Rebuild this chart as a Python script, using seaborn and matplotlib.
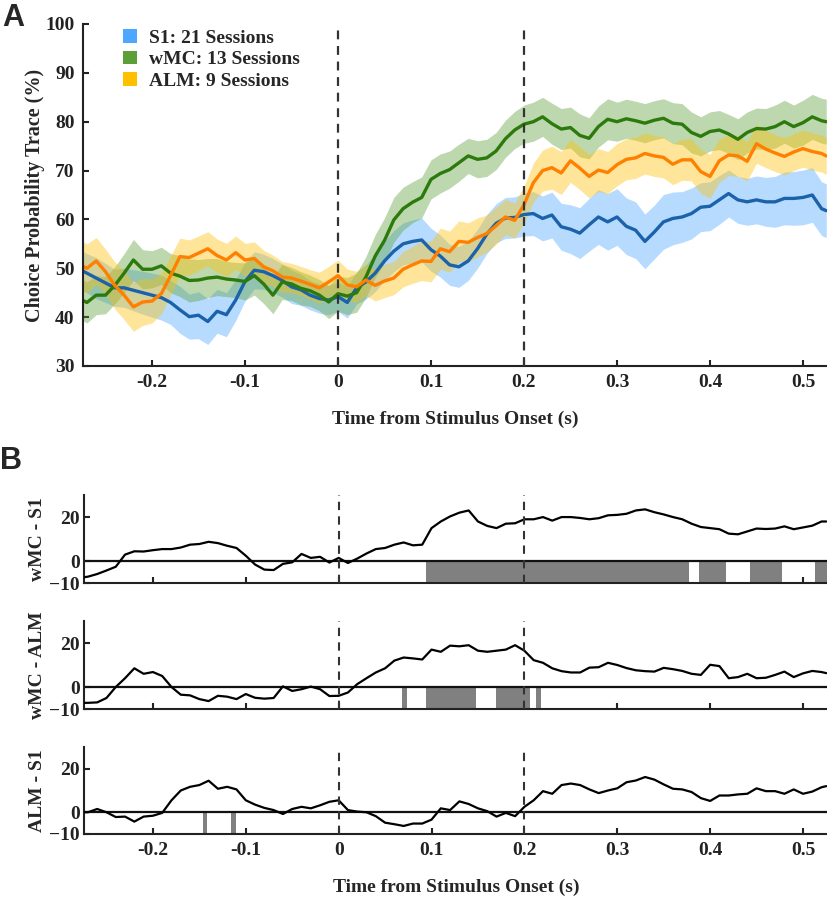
import numpy as np
import pandas as pd
import matplotlib
matplotlib.use("Agg")
import matplotlib.pyplot as plt
import seaborn as sns
from matplotlib.patches import Patch

# ---------------- data ----------------
# time axis (s): endpoints plus 10 ms grid
time_s = np.concatenate(([-0.275], np.arange(-27, 53) / 100, [0.525]))
x_ticks = [-0.2, -0.1, 0, 0.1, 0.2, 0.3, 0.4, 0.5]
x_tick_labels = ["-0.2", "-0.1", "0", "0.1", "0.2", "0.3", "0.4", "0.5"]

series_names = ["S1", "wMC", "ALM"]
legend_labels = ["S1: 21 Sessions", "wMC: 13 Sessions", "ALM: 9 Sessions"]

s1_mean = [49.5, 49, 48, 47, 46, 46, 45.5, 45, 44.5, 44,
           43, 41.5, 40.1, 40.4, 39.1, 41.2, 40.5, 43.5, 47.3, 49.6,
           49.3, 48.5, 47.5, 46.2, 45.6, 44.5, 43.8, 43.5, 44.2, 43,
           46, 47.2, 49, 51.5, 53.5, 55, 55.5, 55.8, 53.8, 52.5,
           50.7, 50.3, 51.5, 54, 57, 59.2, 60.3, 60.4, 61, 61.2,
           60.2, 60.9, 58.5, 58, 57.2, 58.9, 60.5, 59.5, 60.5, 58.6,
           57.8, 55.5, 57.4, 59.5, 60.2, 60.5, 61.2, 62.5, 62.7, 64,
           65.3, 64, 63.6, 64, 63.6, 63.6, 64.3, 64.3, 64.5, 65,
           62.2, 61.8]
s1_sem = [4.0, 4.0, 4.2, 4.0, 3.8, 4.0, 4.2, 4.4, 4.5, 4.6,
          4.5, 4.8, 4.6, 4.8, 4.7, 4.5, 4.5, 4.2, 4.0, 3.8,
          3.6, 3.5, 3.4, 3.4, 3.2, 3.0, 3.0, 3.0, 3.0, 3.2,
          3.3, 3.5, 3.8, 4.0, 4.2, 4.3, 4.4, 4.5, 4.4, 4.3,
          4.2, 4.2, 4.0, 4.0, 4.0, 4.0, 4.2, 4.2, 4.4, 4.5,
          4.6, 4.7, 4.8, 5.0, 5.2, 5.4, 5.6, 5.8, 5.8, 5.8,
          5.8, 5.6, 5.5, 5.6, 5.4, 5.2, 5.2, 5.0, 5.0, 5.0,
          4.8, 4.8, 4.8, 4.9, 5.0, 5.2, 5.4, 5.5, 5.6, 5.6,
          5.5, 5.5]

wmc_mean = [43.5, 43, 44.5, 44.5, 46.5, 49, 51.7, 49.8, 49.8, 50.5,
            49, 48.4, 47.5, 47.6, 48, 48.2, 47.8, 47.6, 47.3, 48.5,
            46.8, 44.5, 47.2, 46.8, 45.9, 45.4, 44.5, 43.1, 44.8, 44.3,
            45, 48.2, 52.5, 55.7, 59.9, 62.2, 63.5, 64.5, 68.2, 69.4,
            70.2, 71.6, 73, 72.3, 72.6, 74, 76.5, 78.3, 79.5, 80,
            81, 79.6, 78.5, 78.8, 77.2, 76.6, 79, 80.5, 80, 80.6,
            80.2, 79.7, 80.3, 80.7, 79.7, 79.5, 77.8, 77, 78, 78.3,
            77.5, 76.4, 77.8, 78.6, 78.5, 79, 80, 79, 79.8, 81,
            80.2, 80]
wmc_sem = [4.2, 4.2, 4.0, 3.8, 3.8, 4.0, 4.2, 4.0, 3.8, 3.8,
           4.0, 4.2, 4.4, 4.2, 4.0, 3.8, 3.6, 3.6, 3.8, 4.0,
           4.0, 3.8, 3.6, 3.4, 3.4, 3.2, 3.2, 3.4, 3.6, 3.8,
           4.0, 4.2, 4.4, 4.6, 4.6, 4.4, 4.2, 4.2, 4.0, 4.0,
           3.8, 3.8, 3.6, 3.8, 3.8, 3.8, 3.8, 3.8, 3.9, 4.0,
           4.0, 4.2, 4.2, 4.2, 4.4, 4.2, 4.2, 4.2, 4.0, 4.0,
           4.0, 4.0, 4.0, 4.0, 4.2, 4.2, 4.2, 4.0, 4.0, 4.0,
           4.0, 4.2, 4.2, 4.2, 4.2, 4.4, 4.4, 4.4, 4.6, 4.6,
           4.6, 4.6]

alm_mean = [50.5, 50, 51.5, 49.3, 46.5, 44.5, 42.1, 43.1, 43.3, 44.8,
            48.5, 52.4, 52.2, 53.1, 54, 52.6, 51.7, 53.2, 51.7, 52,
            50.3, 49.5, 48.2, 48, 47.4, 46.7, 46, 47.2, 48.5, 46.6,
            46.2, 47.6, 46.5, 47.4, 48, 49.8, 50.7, 51.5, 51.4, 54,
            53.4, 55.5, 55.3, 56.3, 57.1, 58.7, 60.5, 59.8, 63, 67.5,
            70, 70.6, 69.5, 72, 70.5, 68.8, 70.1, 69.6, 71.2, 72.3,
            72.6, 73.5, 73, 72.7, 71.3, 72.2, 72.2, 69.8, 68.8, 72,
            73.2, 73, 71.9, 75.5, 74.4, 73.6, 72.9, 73.8, 74.5, 73.9,
            73.5, 73]
alm_sem = [5.0, 5.0, 4.8, 4.6, 4.8, 5.0, 5.0, 4.8, 4.5, 4.2,
           4.0, 3.8, 3.6, 3.5, 3.5, 3.4, 3.4, 3.4, 3.4, 3.4,
           3.4, 3.2, 3.2, 3.0, 3.0, 3.0, 3.2, 3.2, 3.2, 3.2,
           3.2, 3.2, 3.2, 3.4, 3.4, 3.6, 3.8, 4.0, 4.2, 4.2,
           4.2, 4.2, 4.0, 4.0, 3.8, 3.8, 3.6, 3.6, 3.8, 4.0,
           4.2, 4.4, 4.4, 4.4, 4.4, 4.4, 4.4, 4.3, 4.3, 4.2,
           4.2, 4.2, 4.2, 4.2, 4.2, 4.2, 4.3, 4.5, 4.5, 4.4,
           4.2, 4.2, 4.0, 4.0, 3.8, 3.8, 3.8, 3.8, 3.8, 3.8,
           3.8, 3.8]

diff_names = ["wMC - S1", "wMC - ALM", "ALM - S1"]
wmc_minus_s1 = [-7.3, -7, -5.8, -4.2, -2.5, 3, 4.5, 4.4, 5, 5.5,
                5.5, 6.2, 7.5, 7.8, 8.8, 8.2, 7, 6, 2.5, -1.5,
                -3.8, -4, -1.2, -0.5, 3.3, 1.5, 2, -0.6, 1.5, -0.8,
                1.2, 3.5, 5.5, 6, 7.5, 8.5, 7.2, 7.5, 15, 18,
                20.3, 22, 23, 18, 16, 15, 17, 17.2, 19, 19,
                20, 18.4, 20, 20, 19.6, 19, 19.5, 20.8, 21, 21.5,
                23, 23.5, 22.2, 21.2, 20, 19, 17, 15.5, 15, 14.5,
                12.5, 12.2, 13.5, 14.8, 14.6, 14.8, 15.8, 14.5, 15.3, 16.1,
                18, 18]
wmc_minus_alm = [-7.2, -7.2, -7, -5, 0, 4, 8.5, 6, 6.8, 5,
                 0, -3.5, -3.8, -5.5, -6.4, -4, -4.4, -5.5, -3.2, -4.9,
                 -5.3, -5, 0.3, -1.8, -1, 0.2, -1, -4.1, -4, -2.5,
                 1.3, 4, 6.6, 8.5, 12, 13.4, 13, 12.5, 17, 16,
                 18.8, 18.5, 19, 16.5, 16, 16.5, 17, 19, 16.5, 12.2,
                 11, 8.5, 7.2, 6.6, 6.6, 8.8, 9, 11, 10, 8.6,
                 7.6, 7.2, 7, 8.7, 8.1, 7.3, 6, 5.5, 10.1, 9.5,
                 4, 4.5, 6, 4, 4.2, 5.5, 7, 4.5, 6.2, 7.3,
                 6.8, 6.3]
alm_minus_s1 = [0, 0, 1.5, 0, -2.2, -2, -4.3, -2, -1.6, -0.3,
                5.5, 10, 11.7, 12.5, 14.5, 10.8, 11.7, 10.5, 5.5, 3.5,
                2, 1, -0.8, 1.5, 2.5, 1.8, 3.2, 4.8, 5.5, 1,
                0.3, 0, -1.8, -4.8, -5.5, -6.3, -5.2, -5.2, -3.4, 1.8,
                1, 5, 3.8, 1.8, 0.5, -2, -0.3, -1.8, 2.5, 5.5,
                9.7, 8.5, 12.5, 13.2, 12.5, 10.5, 8.8, 10, 11, 13.8,
                14.6, 16.2, 15, 12.8, 10.8, 10.5, 9.3, 6.5, 5.2, 7.7,
                7.7, 8.2, 8.5, 11, 9.7, 9.7, 8.5, 10.5, 8.5, 9.5,
                11.5, 12]

# significant windows (start, end) in s
sig_wmc_s1_start = [0.0937, 0.3884, 0.4429, 0.5127]
sig_wmc_s1_end = [0.3777, 0.4170, 0.4770, 0.5270]
sig_wmc_alm_start = [0.0686, 0.0937, 0.1690, 0.2125]
sig_wmc_alm_end = [0.0733, 0.1478, 0.2060, 0.2180]
sig_alm_s1_start = [-0.1460, -0.1160]
sig_alm_s1_end = [-0.1418, -0.1110]

# ---------------- style ----------------
sns.set_theme(style="ticks")
plt.rcParams["font.family"] = ["Liberation Serif", "DejaVu Serif"]
plt.rcParams["font.weight"] = "bold"
plt.rcParams["axes.labelweight"] = "bold"
plt.rcParams["axes.linewidth"] = 1.5
plt.rcParams["xtick.direction"] = "in"
plt.rcParams["ytick.direction"] = "in"
plt.rcParams["xtick.major.width"] = 1.5
plt.rcParams["ytick.major.width"] = 1.5
plt.rcParams["xtick.major.size"] = 4
plt.rcParams["ytick.major.size"] = 4
plt.rcParams["xtick.color"] = "#222222"
plt.rcParams["ytick.color"] = "#222222"
plt.rcParams["axes.edgecolor"] = "#222222"

FS = 14
band_colors = {"S1": "#4da6ff", "wMC": "#5b9f36", "ALM": "#ffc000"}
line_colors = {"S1": "#1b62ab", "wMC": "#2d7a0c", "ALM": "#ff8000"}
legend_colors = ["#4da6ff", "#5b9f36", "#ffc000"]

fig = plt.figure(figsize=(8.28, 8.98), dpi=100)

xlim = (-0.2742, 0.5269)

# ---------------- panel A ----------------
axA = fig.add_axes([83 / 828, 1 - 366 / 898, 745 / 828, 342 / 898])
means = {"S1": s1_mean, "wMC": wmc_mean, "ALM": alm_mean}
sems = {"S1": s1_sem, "wMC": wmc_sem, "ALM": alm_sem}
for name in series_names:
    m = np.asarray(means[name], dtype=float)
    s = np.asarray(sems[name], dtype=float)
    axA.fill_between(time_s, m - s, m + s, color=band_colors[name], alpha=0.4, lw=0)
    df = pd.DataFrame({"t": time_s, "v": m})
    sns.lineplot(data=df, x="t", y="v", ax=axA, color=line_colors[name],
                 lw=2.4, estimator=None)

for xv in (0, 0.2):
    axA.axvline(xv, color="#333333", lw=1.6, ls=(0, (4, 3)), zorder=5)

axA.set_xlim(*xlim)
axA.set_ylim(30, 100)
axA.set_yticks(range(30, 101, 10))
axA.set_xticks(x_ticks)
axA.set_xticklabels(x_tick_labels)
axA.tick_params(labelsize=FS, pad=6)
axA.set_xlabel("Time from Stimulus Onset (s)", fontsize=FS, labelpad=14)
axA.set_ylabel("Choice Probability Trace (%)", fontsize=14.5, labelpad=0.5)
sns.despine(ax=axA)

handles = [Patch(facecolor=c, edgecolor="none") for c in legend_colors]
axA.legend(handles, legend_labels, loc="upper left", bbox_to_anchor=(0.054, 0.985),
           frameon=False, fontsize=FS, handlelength=0.7, handleheight=0.7,
           handletextpad=0.6, labelspacing=0.2, borderpad=0, borderaxespad=0)

# ---------------- panel B ----------------
b_rects = [
    [84 / 828, 1 - 583.3 / 898, 744 / 828, 88.3 / 898],
    [84 / 828, 1 - 709 / 898, 744 / 828, 88 / 898],
    [84 / 828, 1 - 834 / 898, 744 / 828, 87 / 898],
]
diffs = [wmc_minus_s1, wmc_minus_alm, alm_minus_s1]
sig_starts = [sig_wmc_s1_start, sig_wmc_alm_start, sig_alm_s1_start]
sig_ends = [sig_wmc_s1_end, sig_wmc_alm_end, sig_alm_s1_end]

for i, rect in enumerate(b_rects):
    ax = fig.add_axes(rect)
    ax.set_axisbelow(True)
    st = np.asarray(sig_starts[i])
    en = np.asarray(sig_ends[i])
    ax.bar(st, np.full(len(st), 10.0), width=en - st, bottom=-10, align="edge",
           color="#808080", lw=0, zorder=1)
    ax.axhline(0, color="#111111", lw=1.6, zorder=2)
    df = pd.DataFrame({"t": time_s, "v": diffs[i]})
    sns.lineplot(data=df, x="t", y="v", ax=ax, color="black", lw=1.6,
                 estimator=None, zorder=3)
    for xv in (0, 0.2):
        ax.axvline(xv, color="#333333", lw=1.5, ls=(0, (4, 3)), zorder=4)
    ax.set_xlim(*xlim)
    ax.set_ylim(-10, 30)
    ax.set_yticks([-10, 0, 20])
    ax.set_xticks(x_ticks)
    ax.tick_params(labelsize=FS, pad=3)
    ax.set_ylabel(diff_names[i], fontsize=FS, labelpad=2)
    if i < 2:
        ax.set_xticklabels([])
        ax.set_xlabel("")
    else:
        ax.set_xticklabels(x_tick_labels)
        ax.tick_params(axis="x", pad=6)
        ax.set_xlabel("Time from Stimulus Onset (s)", fontsize=FS, labelpad=14)
    sns.despine(ax=ax)

fig.text(2 / 828, 1 - 3 / 898, "A", fontsize=22, fontweight="bold",
         family=["Liberation Sans", "DejaVu Sans"], va="top", ha="left")
fig.text(0 / 828, 1 - 446 / 898, "B", fontsize=22, fontweight="bold",
         family=["Liberation Sans", "DejaVu Sans"], va="top", ha="left")

fig.savefig("out.png", dpi=100)
